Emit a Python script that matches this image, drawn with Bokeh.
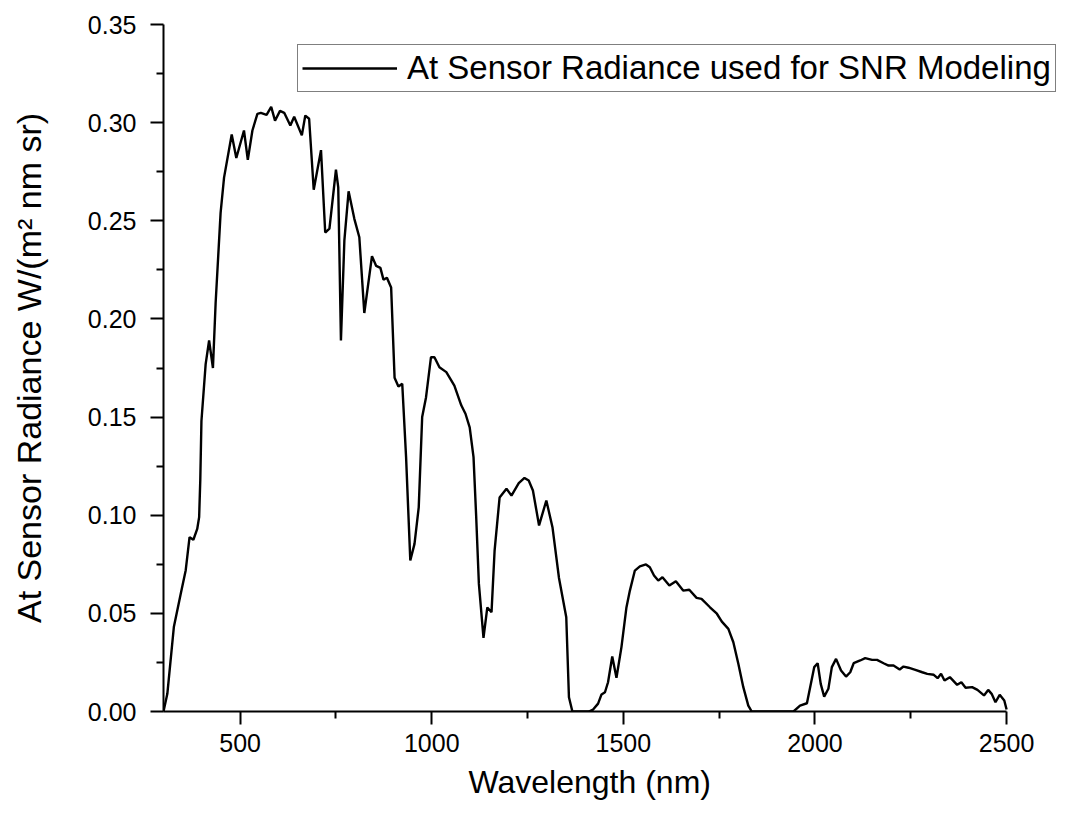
from bokeh.plotting import figure
from bokeh.models import Range1d, FixedTicker, PrintfTickFormatter, Legend, LegendItem, Title
from bokeh.embed import file_html
from bokeh.resources import INLINE

# ---- data ----
wavelength = [300, 310, 327, 345, 358, 368, 378, 388, 393, 396, 399, 410, 419, 429, 436, 449, 458,
              478, 490, 510, 520, 532, 545, 554, 569, 581, 591, 604, 615, 631, 641, 661, 670, 680,
              692, 711, 722, 733, 750, 756, 763, 772, 783, 798, 811, 824, 844, 855, 866, 874, 883,
              894, 903, 913, 923, 933, 944, 955, 966, 975, 985, 998, 1007, 1020, 1038, 1059, 1077,
              1088, 1099, 1109, 1116, 1123, 1135, 1145, 1156, 1164, 1177, 1195, 1208, 1227, 1242,
              1253, 1264, 1280, 1299, 1315, 1332, 1351, 1358, 1367, 1410, 1421, 1434, 1443, 1452,
              1460, 1471, 1482, 1495, 1508, 1517, 1530, 1543, 1559, 1569, 1580, 1591, 1602, 1620,
              1637, 1656, 1672, 1691, 1704, 1726, 1744, 1757, 1774, 1787, 1800, 1813, 1826, 1835,
              1944, 1961, 1979, 1998, 2007, 2015, 2024, 2035, 2044, 2055, 2068, 2081, 2092, 2101,
              2118, 2131, 2149, 2162, 2179, 2192, 2205, 2221, 2231, 2244, 2262, 2280, 2293, 2310,
              2320, 2329, 2338, 2352, 2371, 2382, 2393, 2410, 2424, 2441, 2452, 2461, 2471, 2482,
              2494, 2500]
radiance = [0.0, 0.009, 0.043, 0.060, 0.072, 0.0888, 0.0875, 0.093, 0.099, 0.118, 0.148, 0.177,
            0.189, 0.175, 0.208, 0.254, 0.272, 0.294, 0.282, 0.296, 0.281, 0.296, 0.3045, 0.305,
            0.304, 0.308, 0.301, 0.306, 0.305, 0.2985, 0.303, 0.2935, 0.3036, 0.302, 0.2658, 0.286,
            0.244, 0.246, 0.276, 0.267, 0.189, 0.240, 0.265, 0.251, 0.2416, 0.203, 0.232, 0.227,
            0.226, 0.220, 0.221, 0.216, 0.170, 0.1656, 0.167, 0.1296, 0.0769, 0.0854, 0.104, 0.150,
            0.160, 0.1805, 0.1805, 0.1754, 0.1729, 0.166, 0.156, 0.1517, 0.1448, 0.1296, 0.099,
            0.065, 0.0375, 0.053, 0.0506, 0.082, 0.109, 0.1135, 0.110, 0.1163, 0.119, 0.1177,
            0.1126, 0.0948, 0.1075, 0.0939, 0.068, 0.048, 0.0073, 0.0, 0.0, 0.001, 0.004, 0.0087,
            0.0098, 0.0149, 0.028, 0.0172, 0.0328, 0.053, 0.0616, 0.0718, 0.0739, 0.0749, 0.0735,
            0.0693, 0.0667, 0.0684, 0.0642, 0.0664, 0.0616, 0.062, 0.0579, 0.0574, 0.0531, 0.0498,
            0.0458, 0.0421, 0.0353, 0.0243, 0.0124, 0.003, 0.0, 0.0, 0.003, 0.0042, 0.0226, 0.0246,
            0.0141, 0.0076, 0.0116, 0.0226, 0.0268, 0.0209, 0.0178, 0.02, 0.0246, 0.026, 0.0272,
            0.0263, 0.0263, 0.0246, 0.0234, 0.0234, 0.0214, 0.0229, 0.0223, 0.0212, 0.02, 0.0192,
            0.0187, 0.017, 0.0192, 0.0158, 0.0175, 0.0136, 0.0149, 0.0121, 0.0124, 0.011, 0.0082,
            0.011, 0.009, 0.0047, 0.0085, 0.0056, 0.001]

x_major_ticks = [500, 1000, 1500, 2000, 2500]
x_minor_ticks = [750, 1250, 1750, 2250]
y_major_ticks = [0.0, 0.05, 0.10, 0.15, 0.20, 0.25, 0.30, 0.35]
y_minor_ticks = [0.025, 0.075, 0.125, 0.175, 0.225, 0.275, 0.325]

legend_label = "At Sensor Radiance used for SNR Modeling"
x_title = "Wavelength (nm)"
y_title = "At Sensor Radiance W/(m\u00b2 nm sr)"

FONT = "Liberation Sans"

p = figure(width=1072, height=813,
           x_range=Range1d(300, 2672), y_range=Range1d(0, 0.35),
           output_backend="svg", toolbar_location=None,
           min_border_left=163, min_border_right=0, min_border_top=24, min_border_bottom=102)
p.outline_line_color = None
p.xgrid.visible = False
p.ygrid.visible = False
p.background_fill_color = "white"
p.border_fill_color = "white"

r = p.line(wavelength, radiance, line_color="black", line_width=2.4)

xa = p.xaxis[0]
xa.ticker = FixedTicker(ticks=x_major_ticks, minor_ticks=x_minor_ticks)
xa.bounds = (300, 2500)
ya = p.yaxis[0]
ya.ticker = FixedTicker(ticks=y_major_ticks, minor_ticks=y_minor_ticks)
ya.formatter = PrintfTickFormatter(format="%.2f")

for ax in (xa, ya):
    ax.axis_line_width = 2
    ax.axis_line_color = "black"
    ax.major_tick_line_width = 2
    ax.minor_tick_line_width = 2
    ax.major_tick_line_color = "black"
    ax.minor_tick_line_color = "black"
    ax.major_tick_in = 0
    ax.minor_tick_in = 0
    ax.major_tick_out = 13
    ax.minor_tick_out = 7
    ax.major_label_text_font = FONT
    ax.major_label_text_font_size = "25px"
    ax.major_label_text_color = "black"

xa.major_label_standoff = 9

ya.major_label_standoff = 14
ya.axis_label = y_title
ya.axis_label_text_font = FONT
ya.axis_label_text_font_style = "normal"
ya.axis_label_text_color = "black"
ya.axis_label_text_font_size = "34px"
ya.axis_label_standoff = 37

# x title as a below Title so it can be centred under the drawn axis (300-2500)
xt = Title(text=x_title, align="left", offset=305, standoff=15,
           text_font=FONT, text_font_size="32px", text_font_style="normal", text_color="black")
p.add_layout(xt, "below")

legend = Legend(items=[LegendItem(label=legend_label, renderers=[r])],
                location=(134, 619), orientation="vertical",
                padding=4, spacing=0, margin=0,
                glyph_width=95, glyph_height=30, label_standoff=10,
                label_text_font=FONT, label_text_font_size="33px", label_text_color="black",
                border_line_color="black", border_line_width=1.5,
                background_fill_color="white", background_fill_alpha=1.0)
p.add_layout(legend)

open("out.html", "w").write(file_html(p, INLINE))
